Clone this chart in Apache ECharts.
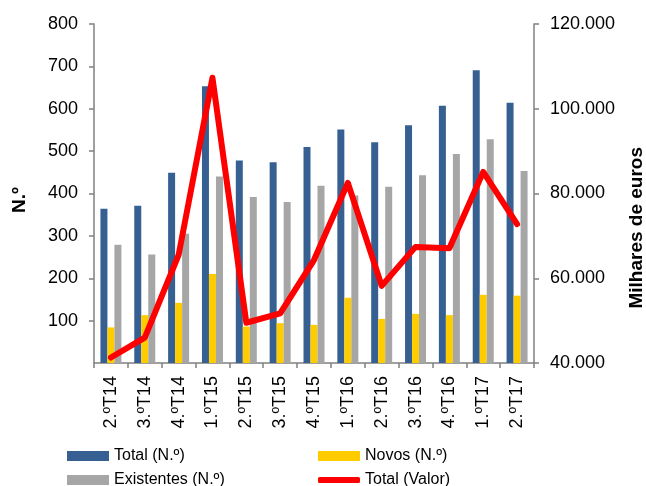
<!DOCTYPE html>
<html>
<head>
<meta charset="utf-8">
<script src="https://cdn.jsdelivr.net/npm/echarts@6/dist/echarts.min.js"></script>
<style>
html,body{margin:0;padding:0;background:#fff;}
#chart{width:646px;height:486px;}
</style>
</head>
<body>
<div id="chart"></div>
<script>
const categories = ['2.ºT14','3.ºT14','4.ºT14','1.ºT15','2.ºT15','3.ºT15','4.ºT15','1.ºT16','2.ºT16','3.ºT16','4.ºT16','1.ºT17','2.ºT17'];
const totalN = [364, 371, 449, 653, 478, 474, 510, 551, 521, 561, 607, 691, 614];
const novosN = [84, 113, 142, 210, 86, 94, 90, 154, 104, 116, 113, 161, 159];
const existentesN = [279, 256, 305, 440, 392, 380, 418, 395, 416, 443, 493, 528, 453];
const totalValor = [41300, 46000, 65500, 107300, 49500, 51700, 64300, 82500, 58200, 67400, 67100, 85100, 72800];
const leftTicks = {min: 0, max: 800, interval: 100};
const rightTicks = {min: 40000, max: 120000, interval: 20000};

const FONT = 'Liberation Sans, Arial, sans-serif';
const fmtDots = v => String(v).replace(/\B(?=(\d{3})+(?!\d))/g, '.');

const chart = echarts.init(document.getElementById('chart'), null, {renderer: 'canvas'});
const legendBase = {
  orient: 'horizontal',
  itemWidth: 42,
  itemHeight: 10,
  itemGap: 5,
  textStyle: {fontFamily: FONT, fontSize: 16, color: '#000'},
  selectedMode: false
};
chart.setOption({
  animation: false,
  backgroundColor: '#fff',
  grid: {left: 94, right: 112, top: 24, bottom: 123, containLabel: false},
  legend: [
    Object.assign({}, legendBase, {data: [{name: 'Total (N.º)', icon: 'rect'}], left: 62, top: 443}),
    Object.assign({}, legendBase, {data: [{name: 'Novos (N.º)', icon: 'rect'}], left: 313, top: 443}),
    Object.assign({}, legendBase, {data: [{name: 'Existentes (N.º)', icon: 'rect'}], left: 62, top: 467}),
    Object.assign({}, legendBase, {data: [{name: 'Total (Valor)', icon: 'roundRect'}], left: 313, top: 467, itemHeight: 6})
  ],
  xAxis: {
    type: 'category',
    data: categories,
    boundaryGap: true,
    axisLine: {lineStyle: {color: '#808080', width: 1.5}},
    axisTick: {show: true, alignWithLabel: false, length: 5, lineStyle: {color: '#808080', width: 1.5}},
    axisLabel: {rotate: 90, margin: 13, fontFamily: FONT, fontSize: 18, color: '#000'},
    splitLine: {show: false}
  },
  yAxis: [
    {
      type: 'value',
      min: leftTicks.min, max: leftTicks.max, interval: leftTicks.interval,
      axisLine: {show: true, lineStyle: {color: '#808080', width: 1.5}},
      axisTick: {show: true, length: 5, lineStyle: {color: '#808080', width: 1.5}},
      axisLabel: {showMinLabel: false, margin: 16, fontFamily: FONT, fontSize: 18, color: '#000'},
      splitLine: {show: false}
    },
    {
      type: 'value',
      position: 'right',
      min: rightTicks.min, max: rightTicks.max, interval: rightTicks.interval,
      axisLine: {show: true, lineStyle: {color: '#808080', width: 1.5}},
      axisTick: {show: true, length: 5, lineStyle: {color: '#808080', width: 1.5}},
      axisLabel: {margin: 16, fontFamily: FONT, fontSize: 18, color: '#000', formatter: fmtDots},
      splitLine: {show: false}
    }
  ],
  graphic: [
    {type: 'text', left: 10, top: 187, rotation: Math.PI / 2,
     style: {text: 'N.º', font: 'bold 19px ' + FONT, fill: '#000'}},
    {type: 'text', left: 627, top: 147, rotation: Math.PI / 2,
     style: {text: 'Milhares de euros', font: 'bold 19px ' + FONT, fill: '#000'}}
  ],
  series: [
    {name: 'Total (N.º)', type: 'bar', data: totalN, barWidth: 7, barGap: '0%', color: '#376092', yAxisIndex: 0},
    {name: 'Novos (N.º)', type: 'bar', data: novosN, barWidth: 7, barGap: '0%', color: '#FFCC00', yAxisIndex: 0},
    {name: 'Existentes (N.º)', type: 'bar', data: existentesN, barWidth: 7, barGap: '0%', color: '#A6A6A6', yAxisIndex: 0},
    {name: 'Total (Valor)', type: 'line', data: totalValor, yAxisIndex: 1, color: '#FF0000',
     showSymbol: false, symbol: 'none',
     lineStyle: {width: 6, color: '#FF0000', cap: 'round', join: 'round'}}
  ]
});
</script>
</body>
</html>
